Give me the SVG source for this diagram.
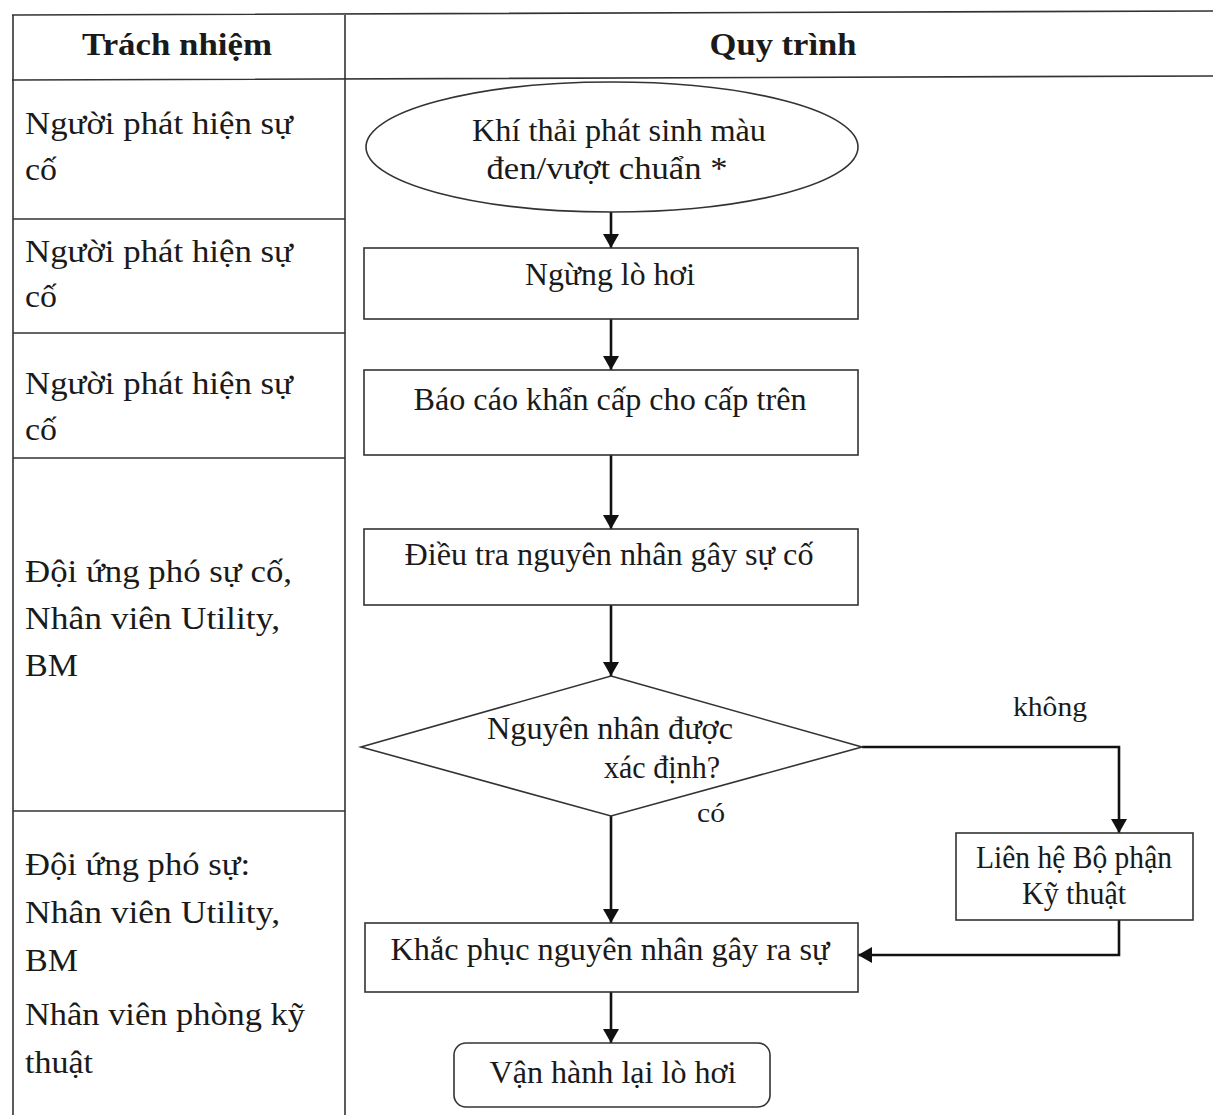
<svg xmlns="http://www.w3.org/2000/svg" width="1213" height="1115" viewBox="0 0 1213 1115">
<style>
.t{font-family:"Liberation Serif","Times New Roman",serif;font-size:32px;fill:#1a1a1a}
.h{font-weight:bold;font-size:31px}
.s{font-size:27px}
.grid{stroke:#333;stroke-width:1.6;fill:none}
.node{fill:#fff;stroke:#333;stroke-width:1.6}
.edge{fill:none;stroke:#111;stroke-width:2.6}
</style>
<defs>
<marker id="ah" viewBox="0 0 14 16" refX="14" refY="8" markerWidth="14" markerHeight="16" markerUnits="userSpaceOnUse" orient="auto">
<path d="M0,0 L14,8 L0,16 Z" fill="#111"/>
</marker>
</defs>
<rect width="1213" height="1115" fill="#fff"/>
<g id="table">
<path class="grid" d="M12,15 L1213,11 M12,80 L1213,76 M13,15 L13,1115 M345,15 L345,1115 M13,219 L345,219 M13,333 L345,333 M13,458 L345,458 M13,811 L345,811"/>
<text class="t h" x="177" y="55" text-anchor="middle" textLength="190" lengthAdjust="spacingAndGlyphs">Trách nhiệm</text>
<text class="t h" x="783" y="55" text-anchor="middle" textLength="147" lengthAdjust="spacingAndGlyphs">Quy trình</text>
<text class="t" x="25" y="134" textLength="268" lengthAdjust="spacingAndGlyphs">Người phát hiện sự</text>
<text class="t" x="25" y="180" textLength="32" lengthAdjust="spacingAndGlyphs">cố</text>
<text class="t" x="25" y="262" textLength="268" lengthAdjust="spacingAndGlyphs">Người phát hiện sự</text>
<text class="t" x="25" y="307" textLength="32" lengthAdjust="spacingAndGlyphs">cố</text>
<text class="t" x="25" y="394" textLength="268" lengthAdjust="spacingAndGlyphs">Người phát hiện sự</text>
<text class="t" x="25" y="440" textLength="32" lengthAdjust="spacingAndGlyphs">cố</text>
<text class="t" x="25" y="582" textLength="267" lengthAdjust="spacingAndGlyphs">Đội ứng phó sự cố,</text>
<text class="t" x="25" y="629" textLength="255" lengthAdjust="spacingAndGlyphs">Nhân viên Utility,</text>
<text class="t" x="25" y="676" textLength="53" lengthAdjust="spacingAndGlyphs">BM</text>
<text class="t" x="25" y="875" textLength="225" lengthAdjust="spacingAndGlyphs">Đội ứng phó sự:</text>
<text class="t" x="25" y="923" textLength="255" lengthAdjust="spacingAndGlyphs">Nhân viên Utility,</text>
<text class="t" x="25" y="971" textLength="53" lengthAdjust="spacingAndGlyphs">BM</text>
<text class="t" x="25" y="1025" textLength="280" lengthAdjust="spacingAndGlyphs">Nhân viên phòng kỹ</text>
<text class="t" x="25" y="1073" textLength="68" lengthAdjust="spacingAndGlyphs">thuật</text>
</g>
<g id="connectors">
<path class="edge" d="M611,212 L611,248" marker-end="url(#ah)"/>
<path class="edge" d="M611,319 L611,370" marker-end="url(#ah)"/>
<path class="edge" d="M611,455 L611,529" marker-end="url(#ah)"/>
<path class="edge" d="M611,605 L611,676" marker-end="url(#ah)"/>
<path class="edge" d="M611,816 L611,923" marker-end="url(#ah)"/>
<path class="edge" d="M862,747 L1119,747 L1119,833" marker-end="url(#ah)"/>
<path class="edge" d="M1119,920 L1119,955 L858,955" marker-end="url(#ah)"/>
<path class="edge" d="M611,992 L611,1043" marker-end="url(#ah)"/>
<text class="t s" x="1050" y="716" text-anchor="middle" textLength="74" lengthAdjust="spacingAndGlyphs">không</text>
<text class="t s" x="711" y="822" text-anchor="middle" textLength="28" lengthAdjust="spacingAndGlyphs">có</text>
</g>
<g id="start">
<ellipse class="node" cx="612" cy="147" rx="246" ry="65"/>
<text class="t" x="619" y="141" text-anchor="middle" textLength="294" lengthAdjust="spacingAndGlyphs">Khí thải phát sinh màu</text>
<text class="t" x="607" y="179" text-anchor="middle" textLength="241" lengthAdjust="spacingAndGlyphs">đen/vượt chuẩn *</text>
</g>
<g id="stop">
<rect class="node" x="364" y="248" width="494" height="71"/>
<text class="t" x="610" y="285" text-anchor="middle" textLength="170" lengthAdjust="spacingAndGlyphs">Ngừng lò hơi</text>
</g>
<g id="report">
<rect class="node" x="364" y="370" width="494" height="85"/>
<text class="t" x="610" y="410" text-anchor="middle" textLength="393" lengthAdjust="spacingAndGlyphs">Báo cáo khẩn cấp cho cấp trên</text>
</g>
<g id="investigate">
<rect class="node" x="364" y="529" width="494" height="76"/>
<text class="t" x="609" y="565" text-anchor="middle" textLength="409" lengthAdjust="spacingAndGlyphs">Điều tra nguyên nhân gây sự cố</text>
</g>
<g id="decision">
<polygon class="node" points="611,676 862,747 611,816 361,747"/>
<text class="t" x="610" y="739" text-anchor="middle" textLength="246" lengthAdjust="spacingAndGlyphs">Nguyên nhân được</text>
<text class="t" x="662" y="778" text-anchor="middle" textLength="116" lengthAdjust="spacingAndGlyphs">xác định?</text>
</g>
<g id="contact">
<rect class="node" x="956" y="833" width="237" height="87"/>
<text class="t" x="1074" y="868" text-anchor="middle" textLength="196" lengthAdjust="spacingAndGlyphs">Liên hệ Bộ phận</text>
<text class="t" x="1074" y="904" text-anchor="middle" textLength="104" lengthAdjust="spacingAndGlyphs">Kỹ thuật</text>
</g>
<g id="fix">
<rect class="node" x="365" y="923" width="493" height="69"/>
<text class="t" x="610" y="960" text-anchor="middle" textLength="439" lengthAdjust="spacingAndGlyphs">Khắc phục nguyên nhân gây ra sự</text>
</g>
<g id="restart">
<rect class="node" x="454" y="1043" width="316" height="64" rx="12"/>
<text class="t" x="613" y="1083" text-anchor="middle" textLength="247" lengthAdjust="spacingAndGlyphs">Vận hành lại lò hơi</text>
</g>
</svg>
